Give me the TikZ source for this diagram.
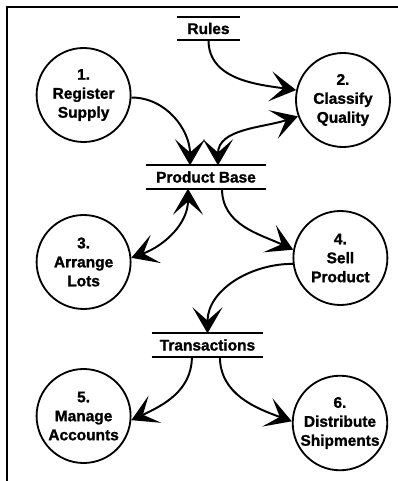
\documentclass[tikz,border=0pt]{standalone}
\usepackage{fontspec}
\setsansfont{Liberation Sans}[BoldFeatures={FakeBold=1.3}]
\usetikzlibrary{arrows.meta,calc}

\begin{document}
\begin{tikzpicture}[
  font=\sffamily\bfseries\fontsize{11}{13.5}\selectfont,
  proc/.style={circle,draw,line width=1.3pt,minimum size=2.35cm,
    align=center,inner sep=0pt},
  store/.style={minimum height=0.57cm,inner sep=0pt},
  storeline/.style={line width=1.3pt},
  flow/.style={line width=1.4pt},
  >={Stealth[length=6.5mm,width=7.5mm,inset=3.3mm]}
]
  \useasboundingbox (0,0) rectangle (9.95,12.025);
  \draw[line width=0.9pt] (0.175,0) -- (0.175,11.85) -- (9.95,11.85);

  % data stores
  \node[store,minimum width=1.575cm] (rules) at (5.2125,11.3125) {Rules};
  \node[store,minimum width=3.0cm] (pbase) at (5.15,7.6) {Product Base};
  \node[store,minimum width=2.775cm] (trans) at (5.1875,3.4) {Transactions};
  \foreach \s in {rules,pbase,trans}
    \draw[storeline] (\s.north west) -- (\s.north east)
                     (\s.south west) -- (\s.south east);

  % processes
  \node[proc] (reg) at (2.09,9.65) {1.\\Register\\Supply};
  \node[proc] (cls) at (8.575,9.525) {2.\\Classify\\Quality};
  \node[proc] (arr) at (2.09,5.475) {3.\\Arrange\\Lots};
  \node[proc] (sell) at (8.51,5.575) {4.\\Sell\\Product};
  \node[proc] (acct) at (2.09,1.625) {5.\\Manage\\Accounts};
  \node[proc] (ship) at (8.5,1.45) {6.\\Distribute\\Shipments};

  \draw[flow,->] (rules.south) to[out=-90,in=172] (cls.168);
  \draw[flow,->] (reg.-3) to[out=0,in=90] ($(pbase.north)+(-0.4,0)$);
  \draw[flow,<->] ($(pbase.north)+(0.3,0)$) to[out=90,in=198] (cls.200);
  \draw[flow,<->] ($(pbase.south)+(-0.45,0)$) to[out=-90,in=20] (arr.5);
  \draw[flow,->] ($(pbase.south)+(0.4,0)$) to[out=-90,in=155] (sell.170);
  \draw[flow,->] (sell.187) to[out=180,in=90] (trans.north);
  \draw[flow,->] ($(trans.south)+(-0.39,0)$) to[out=-90,in=25] (acct.-5);
  \draw[flow,->] ($(trans.south)+(0.31,0)$) to[out=-90,in=160] (ship.178);
\end{tikzpicture}
\end{document}
